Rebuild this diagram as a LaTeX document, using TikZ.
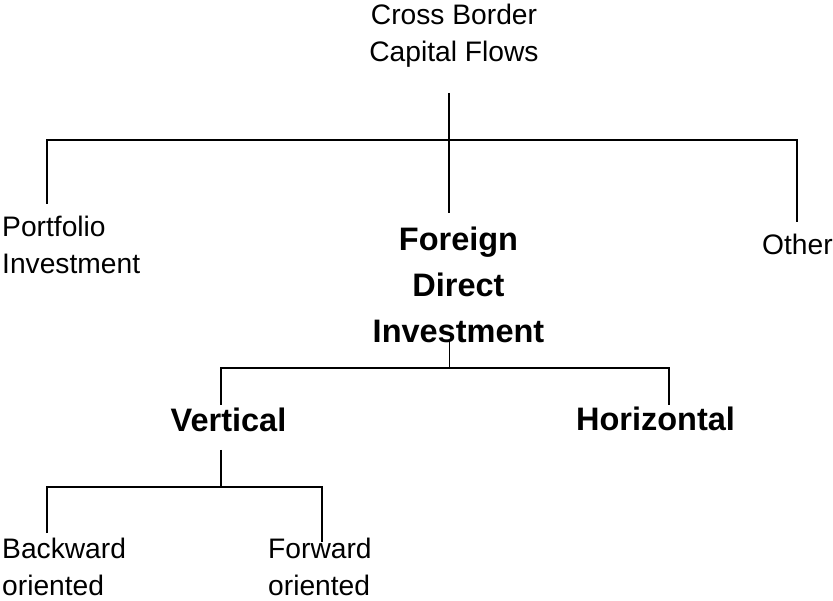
\documentclass[tikz,border=0pt]{standalone}
\usepackage{fontspec}
\setmainfont{Liberation Sans}

\begin{document}
\begin{tikzpicture}[x=1pt,y=-1pt,
  plain/.style={inner sep=0pt,align=left,font=\fontsize{28.2}{37}\selectfont},
  heavy/.style={inner sep=0pt,align=center,font=\fontsize{32.5}{46}\selectfont\bfseries},
  link/.style={line width=1.7pt}]
\useasboundingbox (0,0) rectangle (833,601);
\node[plain,align=center,anchor=base] (cb) at (454,62) {Cross Border\\Capital Flows};
\node[plain,anchor=base west] (pf) at (2,274) {Portfolio\\Investment};
\node[heavy,anchor=base] (fdi) at (458.5,343) {Foreign\\Direct\\Investment};
\node[plain,anchor=base west] (ot) at (762,255) {Other};
\node[heavy,anchor=base] (vt) at (228.5,432) {Vertical};
\node[heavy,anchor=base] (hz) at (655.5,431) {Horizontal};
\node[plain,anchor=base west] (bw) at (2,595) {Backward\\oriented};
\node[plain,anchor=base west] (fw) at (268,595) {Forward\\oriented};
% free ends of the connectors
\coordinate (cb-out) at (449.3,93);
\coordinate (j1) at (449.3,140);
\coordinate (pf-in) at (46.7,204);
\coordinate (fdi-in) at (449.3,213);
\coordinate (ot-in) at (796.7,222);
\coordinate (fdi-out) at (449.5,340);
\coordinate (j2) at (449.5,368);
\coordinate (vt-in) at (220.7,405);
\coordinate (hz-in) at (669,405);
\coordinate (vt-out) at (220.7,450);
\coordinate (j3) at (220.7,487);
\coordinate (bw-in) at (46.7,533);
\coordinate (fw-in) at (321.7,542);
\draw[link] (cb-out) -- (j1);
\draw[link,line width=2pt] (pf-in) -- (pf-in |- j1) -- (ot-in |- j1) -- (ot-in);
\draw[link] (j1) -- (fdi-in);
\draw[link] (fdi-out) -- (j2);
\draw[link] (vt-in) -- (vt-in |- j2) -- (hz-in |- j2) -- (hz-in);
\draw[link] (vt-out) -- (j3);
\draw[link] (bw-in) -- (bw-in |- j3) -- (fw-in |- j3) -- (fw-in);
\end{tikzpicture}
\end{document}
